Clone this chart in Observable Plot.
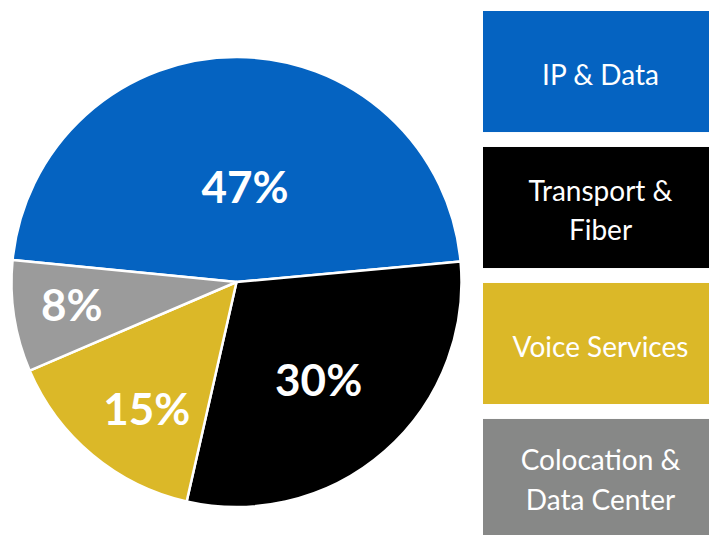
<!DOCTYPE html>
<html><head><meta charset="utf-8">
<script src="https://cdn.jsdelivr.net/npm/d3@7"></script>
<script src="https://cdn.jsdelivr.net/npm/@observablehq/plot@0.6"></script>
<style>html,body{margin:0;padding:0;background:#fff}</style>
</head><body><div id="chart"></div>
<script>
// ---- data ----
const categories = ["IP & Data", "Transport & Fiber", "Voice Services", "Colocation & Data Center"];
const shares = [47, 30, 15, 8];
const pctLabels = ["47%", "30%", "15%", "8%"];
const legendLabels = ["IP & Data", "Transport &\nFiber", "Voice Services", "Colocation &\nData Center"];
const sliceColors = ["#0563C1", "#000000", "#DBB828", "#9B9B9B"];
const legendColors = ["#0563C1", "#000000", "#DBB828", "#878887"];

// ---- layout ----
const W = 710, H = 535;
const pie = {cx: 236.5, cy: 282, r: 225, startDeg: -84.4};
const labelPlace = [[0.42, 4.7], [0.573, 1.7], [0.70, -4.7], [0.745, 0.5]]; // [radius fraction, angle offset deg]
const legendBox = {x1: 483, x2: 709, top: 11, bottom: 540, padding: 0.11, textDx: 4, lineHeight: 1.4};

const start = pie.startDeg * Math.PI / 180;
const arcs = d3.pie().sort(null).value(d => d.share)
  .startAngle(start).endAngle(start + 2 * Math.PI)(
    categories.map((c, i) => ({category: c, share: shares[i]})));

const band = d3.scaleBand().domain(categories)
  .range([legendBox.top, legendBox.bottom]).paddingInner(legendBox.padding);

function pieMark(index, scales) {
  const sx = typeof scales?.x === "function" ? scales.x : v => v;
  const sy = typeof scales?.y === "function" ? scales.y : v => v;
  const cx = sx(pie.cx), cy = sy(pie.cy);
  const arcGen = d3.arc().innerRadius(0).outerRadius(pie.r);
  const g = d3.create("svg:g").attr("transform", `translate(${cx},${cy})`);
  g.selectAll("path").data(arcs).join("path")
    .attr("d", arcGen)
    .attr("fill", d => sliceColors[d.index])
    .attr("stroke", "#fff")
    .attr("stroke-width", 2.5)
    .attr("stroke-linejoin", "round");
  return g.node();
}

const labelX = d => {
  const [f, off] = labelPlace[d.index];
  const a = (d.startAngle + d.endAngle) / 2 + off * Math.PI / 180;
  return pie.cx + 224 * f * Math.sin(a);
};
const labelY = d => {
  const [f, off] = labelPlace[d.index];
  const a = (d.startAngle + d.endAngle) / 2 + off * Math.PI / 180;
  return pie.cy - 224 * f * Math.cos(a);
};

const chart = Plot.plot({
  width: W, height: H,
  margin: 0,
  x: {domain: [0, W], range: [0, W], axis: null},
  y: {domain: [0, H], range: [0, H], axis: null},
  color: {type: "identity"},
  style: {fontFamily: "Lato, 'Open Sans', sans-serif", background: "#fff"},
  marks: [
    pieMark,
    Plot.text(arcs, {
      x: labelX, y: labelY,
      text: d => pctLabels[d.index],
      fill: "#fff", fontSize: 44, fontWeight: "bold"
    }),
    Plot.rect(categories, {
      x1: legendBox.x1, x2: legendBox.x2,
      y1: c => band(c), y2: c => band(c) + band.bandwidth(),
      fill: (c, i) => legendColors[i]
    }),
    Plot.text(categories, {
      x: (legendBox.x1 + legendBox.x2) / 2 + legendBox.textDx,
      y: c => band(c) + Math.min(band.bandwidth(), H - band(c)) / 2,
      text: (c, i) => legendLabels[i],
      fill: "#fff", fontSize: 28, lineHeight: legendBox.lineHeight,
      lineAnchor: "middle", textAnchor: "middle"
    })
  ]
});
document.getElementById("chart").appendChild(chart);
</script>
</body></html>
